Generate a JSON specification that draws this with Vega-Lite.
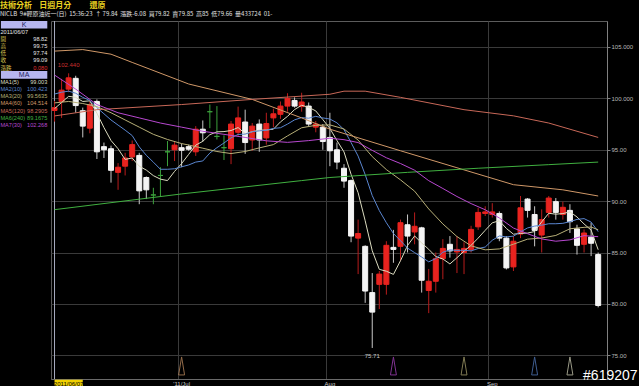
{
"$schema":"https://vega.github.io/schema/vega-lite/v6.json",
"background":"#000000",
"padding":{"top":2,"left":0,"right":0,"bottom":0},
"spacing":0,
"bounds":"flush",
"title":{"text":"技術分析\u00a0\u00a0\u00a0\u00a0日週月分\u00a0\u00a0\u00a0\u00a0\u00a0\u00a0\u00a0\u00a0\u00a0\u00a0還原","subtitle":"NICLB\u00a0 9#輕原油近一(日)\u00a0 15:36:23\u00a0 ↑ 79.84\u00a0 漲跌-6.08\u00a0 買79.82\u00a0 賣79.85\u00a0 高85\u00a0 低79.66\u00a0 量433724\u00a0 01-","anchor":"start","frame":"group","font":"Noto Sans CJK TC","fontSize":8,"fontWeight":"bold","color":"#e8d020","subtitleFont":"Noto Sans CJK TC","subtitleFontSize":6,"subtitleColor":"#e0e0e0","subtitlePadding":1,"offset":3},
"config":{"view":{"stroke":null},"font":"Liberation Sans"},
"datasets":{
"k":[
{"d":"2011-06-07","o":98.82,"h":99.75,"l":97.74,"c":99.09},
{"d":"2011-06-08","o":99.7,"h":101.9,"l":98.1,"c":100.8},
{"d":"2011-06-09","o":100.9,"h":102.44,"l":100.6,"c":102.0},
{"d":"2011-06-10","o":101.95,"h":102.2,"l":98.6,"c":99.3},
{"d":"2011-06-13","o":98.8,"h":99.1,"l":96.2,"c":97.3},
{"d":"2011-06-14","o":97.1,"h":99.7,"l":96.6,"c":99.4},
{"d":"2011-06-15","o":99.7,"h":99.9,"l":94.1,"c":94.8},
{"d":"2011-06-16","o":95.3,"h":95.7,"l":94.2,"c":95.0},
{"d":"2011-06-17","o":95.1,"h":95.4,"l":91.8,"c":93.0},
{"d":"2011-06-20","o":92.8,"h":93.7,"l":91.1,"c":93.3},
{"d":"2011-06-21","o":93.4,"h":94.7,"l":92.5,"c":94.2},
{"d":"2011-06-22","o":94.3,"h":95.9,"l":93.9,"c":95.5},
{"d":"2011-06-23","o":94.45,"h":94.7,"l":89.7,"c":91.0},
{"d":"2011-06-24","o":92.3,"h":92.4,"l":90.2,"c":91.1},
{"d":"2011-06-27","o":90.6,"h":91.3,"l":89.7,"c":90.6},
{"d":"2011-06-28","o":92.5,"h":93.3,"l":90.4,"c":92.5},
{"d":"2011-06-29","o":94.8,"h":95.85,"l":93.4,"c":94.8},
{"d":"2011-06-30","o":95.0,"h":95.8,"l":93.9,"c":95.45},
{"d":"2011-07-01","o":95.2,"h":95.6,"l":93.3,"c":94.95},
{"d":"2011-07-04","o":95.3,"h":95.5,"l":94.9,"c":95.05},
{"d":"2011-07-05","o":94.8,"h":97.3,"l":94.4,"c":97.0},
{"d":"2011-07-06","o":97.0,"h":97.85,"l":95.8,"c":96.65},
{"d":"2011-07-07","o":98.7,"h":99.4,"l":97.1,"c":98.7},
{"d":"2011-07-08","o":96.3,"h":99.25,"l":96.0,"c":96.3},
{"d":"2011-07-11","o":95.2,"h":96.4,"l":94.0,"c":95.2},
{"d":"2011-07-12","o":95.1,"h":97.8,"l":93.6,"c":97.5},
{"d":"2011-07-13","o":96.7,"h":99.2,"l":96.3,"c":98.1},
{"d":"2011-07-14","o":97.7,"h":98.9,"l":94.6,"c":95.7},
{"d":"2011-07-15","o":95.95,"h":97.6,"l":94.9,"c":97.3},
{"d":"2011-07-18","o":97.5,"h":97.95,"l":94.8,"c":95.95},
{"d":"2011-07-19","o":96.15,"h":98.6,"l":95.5,"c":97.55},
{"d":"2011-07-20","o":98.1,"h":99.0,"l":97.2,"c":98.5},
{"d":"2011-07-21","o":98.45,"h":99.7,"l":98.0,"c":99.25},
{"d":"2011-07-22","o":99.25,"h":100.5,"l":98.7,"c":100.0},
{"d":"2011-07-25","o":99.8,"h":100.1,"l":99.1,"c":99.25},
{"d":"2011-07-26","o":99.2,"h":100.55,"l":98.7,"c":99.65},
{"d":"2011-07-27","o":99.25,"h":99.6,"l":97.3,"c":97.5},
{"d":"2011-07-28","o":97.2,"h":97.8,"l":96.7,"c":97.5},
{"d":"2011-07-29","o":97.2,"h":97.5,"l":95.0,"c":95.8},
{"d":"2011-08-01","o":96.2,"h":98.6,"l":93.4,"c":94.9},
{"d":"2011-08-02","o":95.0,"h":95.7,"l":93.1,"c":93.8},
{"d":"2011-08-03","o":93.2,"h":93.6,"l":91.3,"c":91.95},
{"d":"2011-08-04","o":92.0,"h":92.1,"l":86.0,"c":86.6},
{"d":"2011-08-05","o":86.4,"h":88.2,"l":82.9,"c":86.85},
{"d":"2011-08-08","o":85.6,"h":85.7,"l":80.1,"c":81.25},
{"d":"2011-08-09","o":81.1,"h":83.0,"l":75.71,"c":79.2},
{"d":"2011-08-10","o":81.9,"h":83.2,"l":79.5,"c":82.9},
{"d":"2011-08-11","o":81.9,"h":86.1,"l":80.9,"c":85.7},
{"d":"2011-08-12","o":85.5,"h":87.2,"l":84.0,"c":85.3},
{"d":"2011-08-15","o":85.6,"h":88.2,"l":84.2,"c":87.9},
{"d":"2011-08-16","o":87.7,"h":88.7,"l":85.0,"c":86.6},
{"d":"2011-08-17","o":87.0,"h":88.9,"l":85.8,"c":87.55},
{"d":"2011-08-18","o":87.4,"h":87.5,"l":81.1,"c":82.3},
{"d":"2011-08-19","o":81.3,"h":83.4,"l":79.1,"c":82.2},
{"d":"2011-08-22","o":82.2,"h":85.0,"l":81.1,"c":84.4},
{"d":"2011-08-23","o":84.4,"h":86.3,"l":82.4,"c":85.4},
{"d":"2011-08-24","o":85.8,"h":86.6,"l":84.5,"c":85.15},
{"d":"2011-08-25","o":85.05,"h":86.6,"l":83.0,"c":85.3},
{"d":"2011-08-26","o":85.0,"h":86.0,"l":82.9,"c":85.4},
{"d":"2011-08-29","o":85.3,"h":87.6,"l":85.0,"c":87.25},
{"d":"2011-08-30","o":87.5,"h":89.35,"l":87.2,"c":88.9},
{"d":"2011-08-31","o":88.8,"h":89.5,"l":88.55,"c":88.95},
{"d":"2011-09-01","o":88.7,"h":89.8,"l":88.4,"c":88.95},
{"d":"2011-09-02","o":88.8,"h":89.0,"l":86.1,"c":86.4},
{"d":"2011-09-05","o":86.4,"h":86.6,"l":83.35,"c":83.5},
{"d":"2011-09-06","o":83.6,"h":86.6,"l":83.2,"c":86.1},
{"d":"2011-09-07","o":86.8,"h":90.5,"l":86.4,"c":89.35},
{"d":"2011-09-08","o":90.2,"h":90.3,"l":88.4,"c":89.1},
{"d":"2011-09-09","o":88.7,"h":89.5,"l":85.6,"c":87.15},
{"d":"2011-09-12","o":86.7,"h":89.2,"l":85.0,"c":88.2},
{"d":"2011-09-13","o":88.9,"h":90.5,"l":88.4,"c":90.3},
{"d":"2011-09-14","o":89.95,"h":90.3,"l":88.2,"c":88.9},
{"d":"2011-09-15","o":88.7,"h":89.95,"l":88.2,"c":89.4},
{"d":"2011-09-16","o":89.1,"h":89.7,"l":86.9,"c":88.0},
{"d":"2011-09-19","o":87.3,"h":87.7,"l":84.8,"c":85.7},
{"d":"2011-09-20","o":85.8,"h":87.25,"l":85.0,"c":86.9},
{"d":"2011-09-21","o":86.5,"h":87.9,"l":84.65,"c":85.9},
{"d":"2011-09-22","o":84.8,"h":85.0,"l":79.66,"c":79.84}
],
"ma":[
{"d":"2011-06-07","m":"MA1","v":99.0},{"d":"2011-06-08","m":"MA1","v":99.6},{"d":"2011-06-09","m":"MA1","v":100.2},{"d":"2011-06-10","m":"MA1","v":100.1},{"d":"2011-06-13","m":"MA1","v":99.7},{"d":"2011-06-14","m":"MA1","v":99.76},{"d":"2011-06-15","m":"MA1","v":98.56},{"d":"2011-06-16","m":"MA1","v":97.16},{"d":"2011-06-17","m":"MA1","v":95.9},{"d":"2011-06-20","m":"MA1","v":95.1},{"d":"2011-06-21","m":"MA1","v":94.06},{"d":"2011-06-22","m":"MA1","v":94.2},{"d":"2011-06-23","m":"MA1","v":93.4},{"d":"2011-06-24","m":"MA1","v":93.02},{"d":"2011-06-27","m":"MA1","v":92.48},{"d":"2011-06-28","m":"MA1","v":92.14},{"d":"2011-06-29","m":"MA1","v":92.0},{"d":"2011-06-30","m":"MA1","v":92.89},{"d":"2011-07-01","m":"MA1","v":93.66},{"d":"2011-07-04","m":"MA1","v":94.55},{"d":"2011-07-05","m":"MA1","v":95.45},{"d":"2011-07-06","m":"MA1","v":95.82},{"d":"2011-07-07","m":"MA1","v":96.47},{"d":"2011-07-08","m":"MA1","v":96.74},{"d":"2011-07-11","m":"MA1","v":96.77},{"d":"2011-07-12","m":"MA1","v":96.87},{"d":"2011-07-13","m":"MA1","v":97.16},{"d":"2011-07-14","m":"MA1","v":96.56},{"d":"2011-07-15","m":"MA1","v":96.76},{"d":"2011-07-18","m":"MA1","v":96.91},{"d":"2011-07-19","m":"MA1","v":96.92},{"d":"2011-07-20","m":"MA1","v":97.0},{"d":"2011-07-21","m":"MA1","v":97.71},{"d":"2011-07-22","m":"MA1","v":98.25},{"d":"2011-07-25","m":"MA1","v":98.91},{"d":"2011-07-26","m":"MA1","v":99.33},{"d":"2011-07-27","m":"MA1","v":99.13},{"d":"2011-07-28","m":"MA1","v":98.78},{"d":"2011-07-29","m":"MA1","v":97.94},{"d":"2011-08-01","m":"MA1","v":97.07},{"d":"2011-08-02","m":"MA1","v":95.9},{"d":"2011-08-03","m":"MA1","v":94.79},{"d":"2011-08-04","m":"MA1","v":92.61},{"d":"2011-08-05","m":"MA1","v":90.82},{"d":"2011-08-08","m":"MA1","v":88.09},{"d":"2011-08-09","m":"MA1","v":85.17},{"d":"2011-08-10","m":"MA1","v":83.36},{"d":"2011-08-11","m":"MA1","v":83.18},{"d":"2011-08-12","m":"MA1","v":82.87},{"d":"2011-08-15","m":"MA1","v":84.2},{"d":"2011-08-16","m":"MA1","v":85.68},{"d":"2011-08-17","m":"MA1","v":86.61},{"d":"2011-08-18","m":"MA1","v":85.93},{"d":"2011-08-19","m":"MA1","v":85.31},{"d":"2011-08-22","m":"MA1","v":84.61},{"d":"2011-08-23","m":"MA1","v":84.37},{"d":"2011-08-24","m":"MA1","v":83.89},{"d":"2011-08-25","m":"MA1","v":84.49},{"d":"2011-08-26","m":"MA1","v":85.13},{"d":"2011-08-29","m":"MA1","v":85.7},{"d":"2011-08-30","m":"MA1","v":86.4},{"d":"2011-08-31","m":"MA1","v":87.16},{"d":"2011-09-01","m":"MA1","v":87.89},{"d":"2011-09-02","m":"MA1","v":88.09},{"d":"2011-09-05","m":"MA1","v":87.34},{"d":"2011-09-06","m":"MA1","v":86.78},{"d":"2011-09-07","m":"MA1","v":86.86},{"d":"2011-09-08","m":"MA1","v":86.89},{"d":"2011-09-09","m":"MA1","v":87.04},{"d":"2011-09-12","m":"MA1","v":87.98},{"d":"2011-09-13","m":"MA1","v":88.82},{"d":"2011-09-14","m":"MA1","v":88.73},{"d":"2011-09-15","m":"MA1","v":88.79},{"d":"2011-09-16","m":"MA1","v":88.96},{"d":"2011-09-19","m":"MA1","v":88.46},{"d":"2011-09-20","m":"MA1","v":87.78},{"d":"2011-09-21","m":"MA1","v":87.18},{"d":"2011-09-22","m":"MA1","v":85.27},
{"d":"2011-06-07","m":"MA2","v":100.42},{"d":"2011-06-08","m":"MA2","v":100.6},{"d":"2011-06-09","m":"MA2","v":100.7},{"d":"2011-06-10","m":"MA2","v":100.5},{"d":"2011-06-13","m":"MA2","v":100.1},{"d":"2011-06-14","m":"MA2","v":99.8},{"d":"2011-06-15","m":"MA2","v":99.1},{"d":"2011-06-16","m":"MA2","v":98.5},{"d":"2011-06-17","m":"MA2","v":97.9},{"d":"2011-06-20","m":"MA2","v":97.4},{"d":"2011-06-21","m":"MA2","v":96.91},{"d":"2011-06-22","m":"MA2","v":96.38},{"d":"2011-06-23","m":"MA2","v":95.28},{"d":"2011-06-24","m":"MA2","v":94.46},{"d":"2011-06-27","m":"MA2","v":93.79},{"d":"2011-06-28","m":"MA2","v":93.1},{"d":"2011-06-29","m":"MA2","v":93.1},{"d":"2011-06-30","m":"MA2","v":93.15},{"d":"2011-07-01","m":"MA2","v":93.34},{"d":"2011-07-04","m":"MA2","v":93.52},{"d":"2011-07-05","m":"MA2","v":93.8},{"d":"2011-07-06","m":"MA2","v":93.91},{"d":"2011-07-07","m":"MA2","v":94.68},{"d":"2011-07-08","m":"MA2","v":95.2},{"d":"2011-07-11","m":"MA2","v":95.66},{"d":"2011-07-12","m":"MA2","v":96.16},{"d":"2011-07-13","m":"MA2","v":96.49},{"d":"2011-07-14","m":"MA2","v":96.52},{"d":"2011-07-15","m":"MA2","v":96.75},{"d":"2011-07-18","m":"MA2","v":96.84},{"d":"2011-07-19","m":"MA2","v":96.9},{"d":"2011-07-20","m":"MA2","v":97.08},{"d":"2011-07-21","m":"MA2","v":97.14},{"d":"2011-07-22","m":"MA2","v":97.5},{"d":"2011-07-25","m":"MA2","v":97.91},{"d":"2011-07-26","m":"MA2","v":98.13},{"d":"2011-07-27","m":"MA2","v":98.07},{"d":"2011-07-28","m":"MA2","v":98.25},{"d":"2011-07-29","m":"MA2","v":98.1},{"d":"2011-08-01","m":"MA2","v":97.99},{"d":"2011-08-02","m":"MA2","v":97.62},{"d":"2011-08-03","m":"MA2","v":96.96},{"d":"2011-08-04","m":"MA2","v":95.7},{"d":"2011-08-05","m":"MA2","v":94.38},{"d":"2011-08-08","m":"MA2","v":92.58},{"d":"2011-08-09","m":"MA2","v":90.54},{"d":"2011-08-10","m":"MA2","v":89.08},{"d":"2011-08-11","m":"MA2","v":87.9},{"d":"2011-08-12","m":"MA2","v":86.85},{"d":"2011-08-15","m":"MA2","v":86.15},{"d":"2011-08-16","m":"MA2","v":85.43},{"d":"2011-08-17","m":"MA2","v":84.99},{"d":"2011-08-18","m":"MA2","v":84.56},{"d":"2011-08-19","m":"MA2","v":84.09},{"d":"2011-08-22","m":"MA2","v":84.41},{"d":"2011-08-23","m":"MA2","v":85.03},{"d":"2011-08-24","m":"MA2","v":85.25},{"d":"2011-08-25","m":"MA2","v":85.21},{"d":"2011-08-26","m":"MA2","v":85.22},{"d":"2011-08-29","m":"MA2","v":85.16},{"d":"2011-08-30","m":"MA2","v":85.39},{"d":"2011-08-31","m":"MA2","v":85.53},{"d":"2011-09-01","m":"MA2","v":86.19},{"d":"2011-09-02","m":"MA2","v":86.61},{"d":"2011-09-05","m":"MA2","v":86.52},{"d":"2011-09-06","m":"MA2","v":86.59},{"d":"2011-09-07","m":"MA2","v":87.01},{"d":"2011-09-08","m":"MA2","v":87.39},{"d":"2011-09-09","m":"MA2","v":87.57},{"d":"2011-09-12","m":"MA2","v":87.66},{"d":"2011-09-13","m":"MA2","v":87.8},{"d":"2011-09-14","m":"MA2","v":87.8},{"d":"2011-09-15","m":"MA2","v":87.84},{"d":"2011-09-16","m":"MA2","v":88.0},{"d":"2011-09-19","m":"MA2","v":88.22},{"d":"2011-09-20","m":"MA2","v":88.3},{"d":"2011-09-21","m":"MA2","v":87.96},{"d":"2011-09-22","m":"MA2","v":87.03},
{"d":"2011-06-07","m":"MA3","v":99.56},{"d":"2011-06-09","m":"MA3","v":99.7},{"d":"2011-06-13","m":"MA3","v":99.5},{"d":"2011-06-15","m":"MA3","v":99.2},{"d":"2011-06-17","m":"MA3","v":98.6},{"d":"2011-06-21","m":"MA3","v":97.9},{"d":"2011-06-23","m":"MA3","v":97.2},{"d":"2011-06-27","m":"MA3","v":96.5},{"d":"2011-06-29","m":"MA3","v":96.0},{"d":"2011-07-01","m":"MA3","v":95.6},{"d":"2011-07-04","m":"MA3","v":95.46},{"d":"2011-07-06","m":"MA3","v":95.15},{"d":"2011-07-08","m":"MA3","v":94.83},{"d":"2011-07-12","m":"MA3","v":94.63},{"d":"2011-07-14","m":"MA3","v":94.83},{"d":"2011-07-18","m":"MA3","v":95.18},{"d":"2011-07-20","m":"MA3","v":95.5},{"d":"2011-07-22","m":"MA3","v":96.35},{"d":"2011-07-26","m":"MA3","v":97.14},{"d":"2011-07-28","m":"MA3","v":97.38},{"d":"2011-08-01","m":"MA3","v":97.42},{"d":"2011-08-03","m":"MA3","v":97.02},{"d":"2011-08-05","m":"MA3","v":95.94},{"d":"2011-08-09","m":"MA3","v":94.33},{"d":"2011-08-11","m":"MA3","v":93.07},{"d":"2011-08-15","m":"MA3","v":92.07},{"d":"2011-08-17","m":"MA3","v":90.97},{"d":"2011-08-19","m":"MA3","v":89.24},{"d":"2011-08-23","m":"MA3","v":87.78},{"d":"2011-08-25","m":"MA3","v":86.55},{"d":"2011-08-29","m":"MA3","v":85.65},{"d":"2011-08-31","m":"MA3","v":85.26},{"d":"2011-09-02","m":"MA3","v":85.35},{"d":"2011-09-06","m":"MA3","v":85.81},{"d":"2011-09-08","m":"MA3","v":86.3},{"d":"2011-09-12","m":"MA3","v":86.41},{"d":"2011-09-14","m":"MA3","v":86.66},{"d":"2011-09-16","m":"MA3","v":87.31},{"d":"2011-09-20","m":"MA3","v":87.45},{"d":"2011-09-21","m":"MA3","v":87.48},{"d":"2011-09-22","m":"MA3","v":87.21},
{"d":"2011-06-07","m":"MA4","v":104.6},{"d":"2011-06-13","m":"MA4","v":104.75},{"d":"2011-06-17","m":"MA4","v":104.3},{"d":"2011-06-22","m":"MA4","v":103.5},{"d":"2011-07-04","m":"MA4","v":101.4},{"d":"2011-07-15","m":"MA4","v":99.9},{"d":"2011-07-26","m":"MA4","v":98.1},{"d":"2011-08-01","m":"MA4","v":97.0},{"d":"2011-08-15","m":"MA4","v":94.9},{"d":"2011-08-25","m":"MA4","v":93.25},{"d":"2011-09-06","m":"MA4","v":91.6},{"d":"2011-09-15","m":"MA4","v":91.1},{"d":"2011-09-22","m":"MA4","v":90.5},
{"d":"2011-06-07","m":"MA5","v":98.29},{"d":"2011-06-15","m":"MA5","v":98.9},{"d":"2011-07-01","m":"MA5","v":99.4},{"d":"2011-07-15","m":"MA5","v":99.9},{"d":"2011-08-01","m":"MA5","v":100.4},{"d":"2011-08-03","m":"MA5","v":100.7},{"d":"2011-08-08","m":"MA5","v":100.7},{"d":"2011-08-15","m":"MA5","v":100.1},{"d":"2011-08-26","m":"MA5","v":98.9},{"d":"2011-09-06","m":"MA5","v":98.3},{"d":"2011-09-13","m":"MA5","v":97.6},{"d":"2011-09-22","m":"MA5","v":96.2},
{"d":"2011-06-07","m":"MA6","v":89.17},{"d":"2011-07-01","m":"MA6","v":90.7},{"d":"2011-07-26","m":"MA6","v":92.0},{"d":"2011-08-01","m":"MA6","v":92.3},{"d":"2011-08-16","m":"MA6","v":92.8},{"d":"2011-08-30","m":"MA6","v":93.2},{"d":"2011-09-13","m":"MA6","v":93.55},{"d":"2011-09-22","m":"MA6","v":93.8},
{"d":"2011-06-07","m":"MA7","v":102.27},{"d":"2011-06-10","m":"MA7","v":100.9},{"d":"2011-06-15","m":"MA7","v":99.4},{"d":"2011-06-20","m":"MA7","v":98.6},{"d":"2011-06-23","m":"MA7","v":98.1},{"d":"2011-06-28","m":"MA7","v":97.6},{"d":"2011-07-01","m":"MA7","v":97.2},{"d":"2011-07-06","m":"MA7","v":96.8},{"d":"2011-07-11","m":"MA7","v":96.5},{"d":"2011-07-14","m":"MA7","v":96.2},{"d":"2011-07-19","m":"MA7","v":95.87},{"d":"2011-07-22","m":"MA7","v":95.72},{"d":"2011-07-27","m":"MA7","v":95.89},{"d":"2011-08-01","m":"MA7","v":96.12},{"d":"2011-08-03","m":"MA7","v":95.98},{"d":"2011-08-05","m":"MA7","v":95.7},{"d":"2011-08-09","m":"MA7","v":94.94},{"d":"2011-08-11","m":"MA7","v":94.22},{"d":"2011-08-15","m":"MA7","v":93.66},{"d":"2011-08-17","m":"MA7","v":93.01},{"d":"2011-08-19","m":"MA7","v":91.99},{"d":"2011-08-23","m":"MA7","v":91.23},{"d":"2011-08-25","m":"MA7","v":90.45},{"d":"2011-08-29","m":"MA7","v":89.76},{"d":"2011-08-31","m":"MA7","v":89.16},{"d":"2011-09-02","m":"MA7","v":88.36},{"d":"2011-09-06","m":"MA7","v":87.38},{"d":"2011-09-08","m":"MA7","v":86.83},{"d":"2011-09-12","m":"MA7","v":86.32},{"d":"2011-09-14","m":"MA7","v":86.1},{"d":"2011-09-16","m":"MA7","v":86.23},{"d":"2011-09-20","m":"MA7","v":86.64},{"d":"2011-09-22","m":"MA7","v":86.54}
],
"tri":[
{"d":"2011-07-01","m":"MA4"},{"d":"2011-08-12","m":"MA7"},{"d":"2011-08-26","m":"MA3"},{"d":"2011-09-09","m":"MA2"},{"d":"2011-09-16","m":"MA1"}
],
"panel":[
{"r":1.5,"a":"2011/06/07","b":"","ka":"w","kb":"w"},
{"r":2.5,"a":"開","b":"98.82","ka":"y","kb":"w"},
{"r":3.5,"a":"高","b":"99.75","ka":"y","kb":"w"},
{"r":4.5,"a":"低","b":"97.74","ka":"y","kb":"w"},
{"r":5.5,"a":"收","b":"99.09","ka":"y","kb":"w"},
{"r":6.5,"a":"漲跌","b":"0.080","ka":"y","kb":"r"},
{"r":8.5,"a":"MA1(5)","b":"99.003","ka":"MA1","kb":"MA1"},
{"r":9.5,"a":"MA2(10)","b":"100.423","ka":"MA2","kb":"MA2"},
{"r":10.5,"a":"MA3(20)","b":"99.5635","ka":"MA3","kb":"MA3"},
{"r":11.5,"a":"MA4(60)","b":"104.514","ka":"MA4","kb":"MA4"},
{"r":12.5,"a":"MA5(120)","b":"98.2905","ka":"MA5","kb":"MA5"},
{"r":13.5,"a":"MA6(240)","b":"89.1675","ka":"MA6","kb":"MA6"},
{"r":14.5,"a":"MA7(30)","b":"102.268","ka":"MA7","kb":"MA7"}
],
"hdr":[{"r0":0,"r1":1.05,"rc":0.55,"t":"K"},{"r0":7,"r1":8.05,"rc":7.55,"t":"MA"}]
},
"hconcat":[
{
"width":51,"height":358,
"view":{"stroke":null},
"layer":[
{"data":{"name":"hdr"},"mark":{"type":"rect","color":"#b6b6ee"},
 "encoding":{"x":{"datum":1,"type":"quantitative","scale":{"domain":[0,51]},"axis":null},"x2":{"datum":51},
 "y":{"field":"r0","type":"quantitative","scale":{"domain":[0,49],"reverse":true},"axis":null},"y2":{"field":"r1"}}},
{"data":{"name":"hdr"},"mark":{"type":"text","color":"#1c1c60","fontSize":7,"baseline":"middle","align":"center"},
 "encoding":{"x":{"datum":26,"type":"quantitative"},"y":{"field":"rc","type":"quantitative"},"text":{"field":"t"}}},
{"data":{"name":"panel"},"mark":{"type":"text","fontSize":5.6,"baseline":"middle","align":"left","font":"Liberation Sans, Noto Sans CJK TC"},
 "encoding":{"x":{"datum":0.5,"type":"quantitative"},"y":{"field":"r","type":"quantitative"},"text":{"field":"a"},
 "color":{"field":"ka","type":"nominal","legend":null,"scale":{"domain":["w","y","r","MA1","MA2","MA3","MA4","MA5","MA6","MA7"],"range":["#e6e6e6","#d8c050","#e03030","#dcdcc0","#5a86d0","#b8b078","#d09868","#c86858","#40b040","#b848d0"]}}}},
{"data":{"name":"panel"},"mark":{"type":"text","fontSize":5.6,"baseline":"middle","align":"right"},
 "encoding":{"x":{"datum":51,"type":"quantitative"},"y":{"field":"r","type":"quantitative"},"text":{"field":"b"},
 "color":{"field":"kb","type":"nominal","legend":null}}}
]
},
{
"width":556,"height":358,
"view":{"stroke":"#5c5c5c"},
"layer":[
{"data":{"values":[{"d":"2011-06-07"}]},"mark":{"type":"rule","color":"#a8acc0","strokeWidth":1},
 "encoding":{"x":{"field":"d","type":"ordinal","scale":{"type":"band","paddingInner":0,"paddingOuter":0.375,"align":0},
 "axis":{"values":["2011-07-01","2011-08-01","2011-09-01"],"labelExpr":"datum.value == '2011-07-01' ? \"'11/Jul\" : datum.value == '2011-08-01' ? 'Aug' : 'Sep'","bandPosition":0,"grid":true,"gridColor":"#3a3a3a","ticks":false,"domainColor":"#6a6a6a","labelColor":"#c8c8c8","labelFontSize":6,"labelPadding":1,"labelAngle":0,"title":null}}}},
{"data":{"name":"tri"},"mark":{"type":"point","shape":"M0,-1L0.33,1L-0.33,1Z","size":324,"filled":false,"strokeWidth":1},
 "encoding":{"x":{"field":"d","type":"ordinal"},"y":{"datum":73.96,"type":"quantitative","scale":{"domain":[72.69,107.53],"nice":false,"zero":false},
 "axis":{"orient":"right","values":[75,80,85,90,95,100,105],"labelExpr":"datum.value >= 100 ? format(datum.value,'.3f') : format(datum.value,'.2f')","grid":true,"gridColor":"#3a3a3a","tickSize":3,"tickColor":"#808080","domainColor":"#808080","labelColor":"#b8b8b8","labelFontSize":6,"labelPadding":1,"title":null}},
 "color":{"field":"m","type":"nominal","legend":null,"scale":{"domain":["MA1","MA2","MA3","MA4","MA5","MA6","MA7"],"range":["#d8d8a8","#4f7fc8","#9a9a5c","#b88060","#b06a70","#3aa03a","#b040c8"]}}}},
{"data":{"name":"k"},"mark":{"type":"rule","strokeWidth":1},
 "encoding":{"x":{"field":"d","type":"ordinal"},"y":{"field":"l","type":"quantitative"},"y2":{"field":"h"},
 "color":{"condition":[{"test":"datum.c > datum.o","value":"#b81c1c"},{"test":"datum.c < datum.o","value":"#c8c8c8"}],"value":"#3ca03c"}}},
{"data":{"name":"k"},"mark":{"type":"bar","width":5,"strokeWidth":1},
 "encoding":{"x":{"field":"d","type":"ordinal"},"y":{"field":"o","type":"quantitative"},"y2":{"field":"c"},
 "fill":{"condition":[{"test":"datum.c > datum.o","value":"#e8231f"},{"test":"datum.c < datum.o","value":"#f4f4f4"}],"value":"#3ca03c"},
 "stroke":{"condition":[{"test":"datum.c > datum.o","value":"#e8231f"},{"test":"datum.c < datum.o","value":"#f4f4f4"}],"value":"#3ca03c"}}},
{"data":{"name":"ma"},"mark":{"type":"line","strokeWidth":1},
 "encoding":{"x":{"field":"d","type":"ordinal"},"y":{"field":"v","type":"quantitative"},"color":{"field":"m","type":"nominal","legend":null}}},
{"data":{"values":[{"d":"2011-06-09","v":102.44,"t":"102.440"}]},"mark":{"type":"text","fontSize":6,"color":"#c83030","dy":-8},
 "encoding":{"x":{"field":"d","type":"ordinal"},"y":{"field":"v","type":"quantitative"},"text":{"field":"t"}}},
{"data":{"values":[{"d":"2011-08-09","v":75.71,"t":"75.71"}]},"mark":{"type":"text","fontSize":6,"color":"#c8c8c8","dy":8},
 "encoding":{"x":{"field":"d","type":"ordinal"},"y":{"field":"v","type":"quantitative"},"text":{"field":"t"}}},
{"data":{"values":[{"a":"2011-06-07","b":"2011-06-13"}]},"mark":{"type":"rect","color":"#f0d000","clip":false},
 "encoding":{"x":{"field":"a","type":"ordinal"},"x2":{"field":"b"},"y":{"datum":72.62,"type":"quantitative"},"y2":{"datum":71.85}}},
{"data":{"values":[{"d":"2011-06-09","t":"2011/06/07"}]},"mark":{"type":"text","fontSize":6,"color":"#000000","baseline":"middle"},
 "encoding":{"x":{"field":"d","type":"ordinal"},"y":{"datum":72.24,"type":"quantitative"},"text":{"field":"t"}}},
{"data":{"values":[{"d":"2011-09-20","t":"#619207"}]},"mark":{"type":"text","fontSize":14,"color":"#ffffff","baseline":"middle","align":"left","dx":-1,"font":"Liberation Sans"},
 "encoding":{"x":{"field":"d","type":"ordinal"},"y":{"datum":72.99,"type":"quantitative"},"text":{"field":"t"}}}
]
}
]
}
